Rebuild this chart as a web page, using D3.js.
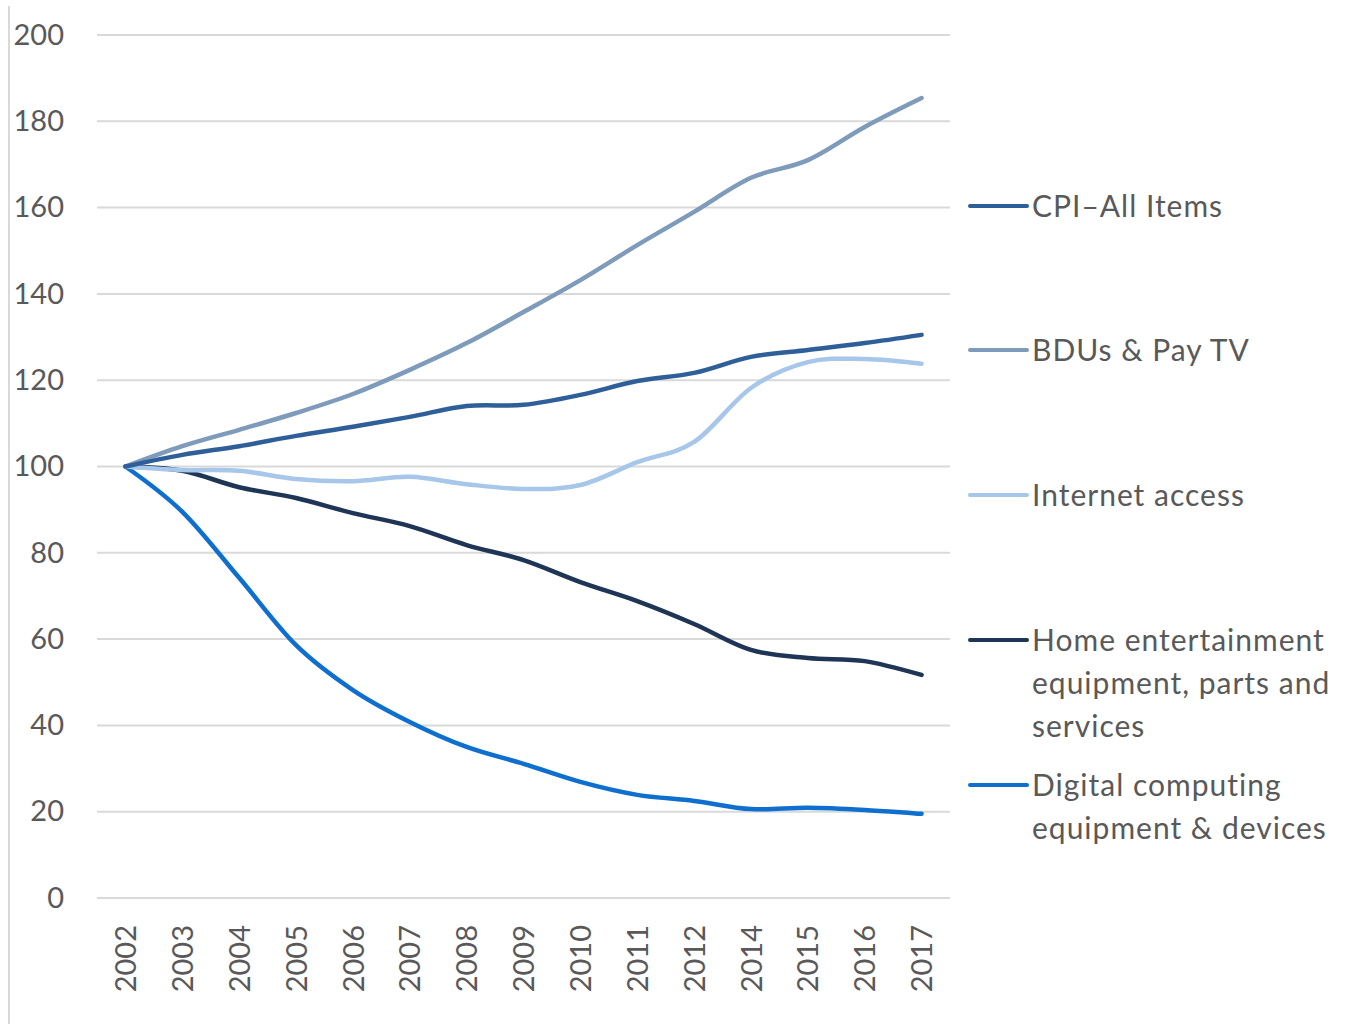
<!DOCTYPE html>
<html>
<head>
<meta charset="utf-8">
<script src="https://cdn.jsdelivr.net/npm/d3@7"></script>
<style>
  body { margin: 0; background: #fff; }
  text { font-family: Lato, "Noto Sans", sans-serif; fill: #595959; }
  .grid line { stroke: #d9d9d9; stroke-width: 2; }
</style>
</head>
<body>
<div class="container"></div>
<script>
const WIDTH = 1354;
const HEIGHT = 1024;

const years = ["2002","2003","2004","2005","2006","2007","2008","2009","2010","2011","2012","2014","2015","2016","2017"];
const yTicks = [0, 20, 40, 60, 80, 100, 120, 140, 160, 180, 200];

const cpi      = [100, 102.7, 104.7, 107.1, 109.2, 111.5, 114.0, 114.3, 116.6, 119.8, 121.7, 125.4, 127.0, 128.6, 130.5];
const bdu      = [100, 104.7, 108.5, 112.4, 116.8, 122.4, 128.6, 135.8, 143.2, 151.3, 159.0, 166.9, 171.0, 178.7, 185.4];
const internet = [100, 99.2, 99.0, 97.1, 96.6, 97.6, 95.9, 94.8, 95.7, 101.0, 105.7, 118.2, 124.2, 124.9, 123.8];
const homeEnt  = [100, 99.0, 95.2, 92.7, 89.2, 86.2, 81.8, 78.3, 73.2, 68.8, 63.5, 57.5, 55.6, 54.9, 51.7];
const digital  = [100, 89.5, 74.2, 58.6, 48.2, 40.8, 35.0, 31.1, 26.9, 23.9, 22.5, 20.6, 20.9, 20.4, 19.5];

const seriesNames = [["CPI\u2013All Items"], ["BDUs & Pay TV"], ["Internet access"],
  ["Home entertainment", "equipment, parts and", "services"], ["Digital computing", "equipment & devices"]];
const seriesColors = ["#2f5f99", "#7f9bbb", "#a6c6ea", "#1e3556", "#0f6fcf"];
const seriesValues = [cpi, bdu, internet, homeEnt, digital];
const legendY = [206, 350, 495, 640, 785];

var svg = d3.select('.container').append('svg')
  .attr('width', WIDTH)
  .attr('height', HEIGHT);

// left border of the chart frame
svg.append('line')
  .attr('x1', 9).attr('x2', 9)
  .attr('y1', 6).attr('y2', HEIGHT)
  .attr('stroke', '#d9d9d9').attr('stroke-width', 2);

var xScale = d3.scalePoint()
  .domain(years)
  .range([97, 950])
  .padding(0.5);

var yScale = d3.scaleLinear()
  .domain([0, 200])
  .range([898, 35]);

// gridlines
svg.append('g').classed('grid', true)
  .selectAll('line')
  .data(yTicks)
  .join('line')
  .attr('x1', 97).attr('x2', 950)
  .attr('y1', d => yScale(d)).attr('y2', d => yScale(d));

// y axis labels
var yAxis = d3.axisLeft(yScale).tickValues(yTicks).tickSize(0).tickPadding(0);
var gy = svg.append('g')
  .attr('transform', 'translate(64,0)')
  .call(yAxis);
gy.select('.domain').remove();
gy.selectAll('text')
  .attr('font-size', 29)
  .attr('fill', '#595959')
  .attr('font-family', 'Lato, "Noto Sans", sans-serif');

// x axis labels
var xAxis = d3.axisBottom(xScale).tickSize(0).tickPadding(0);
var gx = svg.append('g')
  .attr('transform', 'translate(0,925)')
  .call(xAxis);
gx.select('.domain').remove();
gx.selectAll('text')
  .attr('font-size', 29)
  .attr('fill', '#595959')
  .attr('font-family', 'Lato, "Noto Sans", sans-serif')
  .attr('transform', 'rotate(-90)')
  .attr('x', 0)
  .attr('y', 0)
  .attr('dy', '0.35em')
  .attr('text-anchor', 'end');

var line = d3.line()
  .x((d, i) => xScale(years[i]))
  .y(d => yScale(d))
  .curve(d3.curveCatmullRom.alpha(0));

// draw in reverse order so CPI ends on top
var order = [3, 4, 2, 1, 0];
order.forEach(function(k){
  svg.append('path')
    .attr('d', line(seriesValues[k]))
    .attr('fill', 'none')
    .attr('stroke', seriesColors[k])
    .attr('stroke-width', 4.5)
    .attr('stroke-linecap', 'round')
    .attr('stroke-linejoin', 'round');
});

// legend
var legend = svg.append('g');
seriesNames.forEach(function(lines, k){
  var g = legend.append('g').attr('transform', 'translate(0,' + legendY[k] + ')');
  g.append('line')
    .attr('x1', 970).attr('x2', 1027)
    .attr('stroke', seriesColors[k])
    .attr('stroke-width', 4)
    .attr('stroke-linecap', 'round');
  lines.forEach(function(t, j){
    g.append('text')
      .attr('x', 1032)
      .attr('y', j * 43)
      .attr('dy', '0.35em')
      .attr('font-size', 30)
      .attr('letter-spacing', 1)
      .text(t);
  });
});
</script>
</body>
</html>
